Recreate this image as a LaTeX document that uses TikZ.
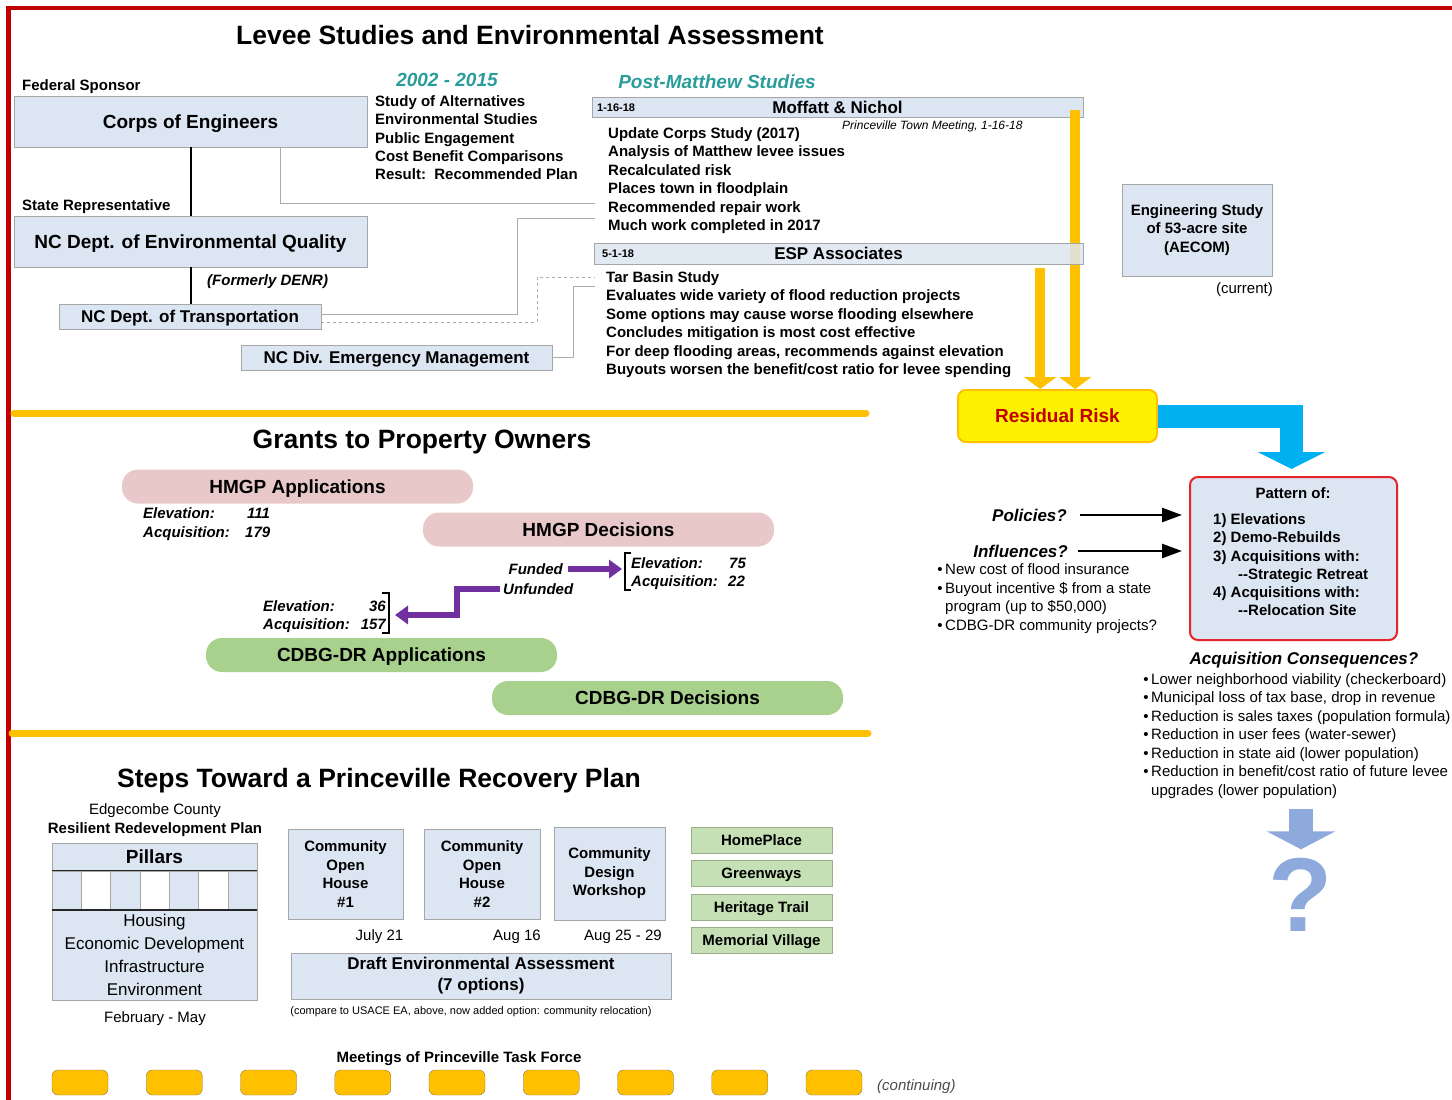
\documentclass[tikz,border=0pt]{standalone}
\usepackage{fontspec}
\setmainfont{Liberation Sans}
\usetikzlibrary{arrows.meta}
\definecolor{redframe}{HTML}{C00000}
\definecolor{tealc}{HTML}{2A9D9A}
\definecolor{boxblue}{HTML}{DCE6F2}
\definecolor{boxline}{HTML}{A6A6A6}
\definecolor{goldc}{HTML}{FFC000}
\definecolor{pinkc}{HTML}{E8C8C8}
\definecolor{greenc}{HTML}{A9D18E}
\definecolor{lgreen}{HTML}{C5E0B4}
\definecolor{gline}{HTML}{9BAE8C}
\definecolor{mline}{HTML}{8C7A4A}
\definecolor{purp}{HTML}{7030A0}
\definecolor{skyc}{HTML}{00B0F0}
\definecolor{cornc}{HTML}{8EA9DB}
\definecolor{patred}{HTML}{E2262B}
\definecolor{riskc}{HTML}{C00000}
\newcommand{\fsz}[2]{\fontsize{#1}{#2}\selectfont}
\newcommand{\bul}{\makebox[0pt][r]{\textbullet\hspace{2.5pt}}}
\begin{document}
\begin{tikzpicture}[x=1pt,y=-1pt,
		lbl/.style={inner sep=0pt,text height=#1,text depth=0pt},
		r15/.style={lbl=10.8pt,font=\fsz{15}{18}},
		b15/.style={lbl=10.8pt,font=\fsz{15}{18}\bfseries},
		bi15/.style={lbl=10.8pt,font=\fsz{15}{18}\bfseries\itshape},
		b17/.style={lbl=12.2pt,font=\fsz{17}{20}\bfseries},
		bi17/.style={lbl=12.2pt,font=\fsz{17}{20}\bfseries\itshape},
		b19/.style={lbl=13.7pt,font=\fsz{19}{22}\bfseries},
		head/.style={lbl=19pt,font=\fsz{26.5}{30}\bfseries},
		teal/.style={lbl=13.7pt,font=\fsz{19}{22}\bfseries\itshape,text=tealc},
		box/.style={draw=boxline,fill=boxblue,inner sep=0pt},
		bar/.style={box,minimum height=20pt},
		pill/.style={inner sep=0pt,rounded corners=16pt,minimum width=351pt,minimum height=34pt},
		grn/.style={box,fill=lgreen,draw=gline,minimum width=141pt,minimum height=26pt},
		mtg/.style={draw=mline,fill=goldc,rounded corners=6pt,minimum width=56pt,minimum height=25pt},
		link/.style={draw=gray!65,line width=0.8pt},
		goldarrow/.style={draw=goldc,line width=10pt,-{Triangle[width=32pt,length=12pt]}},
		purparrow/.style={draw=purp,line width=6pt,line join=miter,-{Triangle[width=18pt,length=13pt]}},
		blkarrow/.style={line width=2.5pt,-{Triangle[width=14pt,length=20pt]}}]
		\useasboundingbox (0,0) rectangle (1452,1100);
		\fill[white] (0,0) rectangle (1452,1100);
		\draw[redframe,line width=4.5pt] (8.5,1100) -- (8.5,8) -- (1452,8);
		\draw[goldc,line width=7pt,line cap=round] (14,413) -- (866,413);
		\draw[goldc,line width=7pt,line cap=round] (12,733) -- (868,733);
		% levee studies
		\node[head] (t1) at (530,35) {Levee Studies and Environmental Assessment};
		\node[b15,anchor=west] (fed) at (22,85) {Federal Sponsor};
		\node[box,b19,minimum width=353pt,minimum height=51pt] (corps) at (190.5,121.5) {Corps of Engineers};
		\node[b15,anchor=west] (state) at (22,205) {State Representative};
		\node[box,b19,minimum width=353pt,minimum height=51pt] (deq) at (190.5,241.5) {NC Dept. of Environmental Quality};
		\node[bi15,anchor=west] (denr) at (207,280) {(Formerly DENR)};
		\node[box,b17,minimum width=262pt,minimum height=25pt] (dot) at (190,316.5) {NC Dept. of Transportation};
		\node[box,b17,minimum width=311pt,minimum height=25pt] (em) at (396.5,357.5) {NC Div. Emergency Management};
		\draw[line width=2pt] (corps) -- (deq);
		\draw[line width=2pt] (deq.south) -- (deq.south |- dot.north);
		\node[teal] (yrs) at (447,80) {2002 - 2015};
		\foreach \t [count=\n from 0] in {Study of Alternatives,Environmental Studies,Public Engagement,Cost Benefit Comparisons,{Result:~~Recommended Plan}}
			\node[b15,anchor=west] (alt\n) at (375,101+18.3*\n) {\t};
		\node[teal] (post) at (717,82) {Post-Matthew Studies};
		\node[bar,b17,minimum width=491pt] (mof) at (837.5,107.5) {Moffatt \& Nichol};
		\node[lbl=7.9pt,font=\fsz{11}{13}\bfseries,anchor=west] (mofd) at (597,108) {1-16-18};
		\node[lbl=8.6pt,font=\fsz{12}{14}\itshape,anchor=west] (town) at (842,125) {Princeville Town Meeting, 1-16-18};
		\foreach \t [count=\n from 0] in {Update Corps Study (2017),Analysis of Matthew levee issues,Recalculated risk,Places town in floodplain,Recommended repair work,Much work completed in 2017}
			\node[b15,anchor=west] (mofl\n) at (608,133+18.4*\n) {\t};
		\node[box,b19,rounded corners=8pt,draw=goldc,line width=2pt,fill=yellow,text=riskc,minimum width=199pt,minimum height=52pt] (res) at (1057.5,416) {Residual Risk};
		\draw[goldarrow] ([xshift=-8pt,yshift=-2pt]mof.east) -- ([xshift=-8pt]mof.east |- res.north);
		\node[bar,b17,minimum width=489pt,minimum height=21pt,fill opacity=.85,text opacity=1] (esp) at (838.5,253.5) {ESP Associates};
		\node[lbl=7.9pt,font=\fsz{11}{13}\bfseries,anchor=west] (espd) at (602,254) {5-1-18};
		\foreach \t [count=\n from 0] in {Tar Basin Study,Evaluates wide variety of flood reduction projects,Some options may cause worse flooding elsewhere,Concludes mitigation is most cost effective,{For deep flooding areas, recommends against elevation},Buyouts worsen the benefit/cost ratio for levee spending}
			\node[b15,anchor=west] (espl\n) at (606,277+18.4*\n) {\t};
		\draw[goldarrow] ([xshift=-43pt,yshift=-4pt]esp.south east) -- ([xshift=-43pt]esp.south east |- res.north);
		\coordinate (inA) at (595,203);
		\coordinate (inB) at (595,218);
		\coordinate (inC) at (595,277);
		\coordinate (inD) at (595,286);
		\draw[link] ([xshift=90pt]corps.south) |- (inA);
		\draw[link] ([yshift=2pt]dot.east) -| ([xshift=-78pt]inB) -- (inB);
		\draw[link,dashed] ([yshift=-6pt]dot.east) -| ([xshift=-58pt]inC) -- (inC);
		\draw[link] (em.east) -| ([xshift=-22pt]inD) -- (inD);
		\node[box,minimum width=150pt,minimum height=92pt,align=center,font=\fsz{15}{18.5}\bfseries] (eng) at (1197,230) {Engineering Study\\of 53-acre site\\(AECOM)};
		\node[r15,anchor=east] (cur) at (1273,288) {(current)};
		% pattern and consequences
		\node[box,draw=patred,line width=2pt,rounded corners=8pt,minimum width=207pt,minimum height=163pt] (pat) at (1293.5,558.5) {};
		\draw[skyc,line width=23pt,line join=miter,-{Triangle[width=67pt,length=17pt]}] (res.east) -| ([xshift=-2pt,yshift=7pt]pat.north);
		\node[b15] (patt) at (1293,493) {Pattern of:};
		\foreach \xx/\yy/\t [count=\n] in {1213/519/1) Elevations,1213/537.3/2) Demo-Rebuilds,1213/555.6/3) Acquisitions with:,1238/573.9/{-{}-Strategic Retreat},1213/592.2/4) Acquisitions with:,1238/610.5/{-{}-Relocation Site}}
			\node[b15,anchor=west] (pat\n) at (\xx,\yy) {\t};
		\node[bi17,anchor=east] (pol) at (1067,515) {Policies?};
		\draw[blkarrow] ([xshift=13pt]pol.east) -- ([xshift=-7pt]pol.east -| pat.west);
		\node[bi17,anchor=east] (inf) at (1068,551) {Influences?};
		\draw[blkarrow] ([xshift=10pt]inf.east) -- ([xshift=-7pt]inf.east -| pat.west);
		\foreach \b/\t [count=\n] in {1/New cost of flood insurance,1/Buyout incentive \$ from a state,0/{program (up to \$50,000)},1/CDBG-DR community projects?}
			\node[r15,anchor=west] (infl\n) at (945,550.5+18.6*\n) {\ifnum\b=1 \bul\fi\t};
		\node[bi17] (acq) at (1304,658) {Acquisition Consequences?};
		\foreach \b/\t [count=\n] in {1/Lower neighborhood viability (checkerboard),1/{Municipal loss of tax base, drop in revenue},1/Reduction is sales taxes (population formula),1/Reduction in user fees (water-sewer),1/Reduction in state aid (lower population),1/{Reduction in benefit/cost ratio of future levee},0/upgrades (lower population)}
			\node[r15,anchor=west] (acql\n) at (1151,660.5+18.5*\n) {\ifnum\b=1 \bul\fi\t};
		\node[lbl=76pt,font=\fsz{105}{105}\bfseries,text=cornc] (qm) at (1301,893.5) {?};
		\coordinate (dn) at (1301,809);
		\draw[cornc,line width=24pt,-{Triangle[width=68pt,length=18pt]}] (dn) -- ([yshift=6pt]qm.north);
		% grants
		\node[head] (t2) at (422,439) {Grants to Property Owners};
		\node[pill,fill=pinkc,b19] (happ) at (297.5,486.5) {HMGP Applications};
		\node[bi15,anchor=west] (hae) at (143,513) {Elevation:};
		\node[bi15,anchor=west] (haa) at (143,532) {Acquisition:};
		\node[bi15,anchor=west] (haen) at (247,513) {111};
		\node[bi15,anchor=west] (haan) at (245,532) {179};
		\node[pill,fill=pinkc,b19] (hdec) at (598.5,529.5) {HMGP Decisions};
		\node[bi15,anchor=east] (fund) at (563,569) {Funded};
		\node[bi15,anchor=west] (unf) at (503,589) {Unfunded};
		\node[bi15,anchor=west] (fe) at (631,563) {Elevation:};
		\node[bi15,anchor=west] (fa) at (631,581) {Acquisition:};
		\node[bi15,anchor=west] (fen) at (729,563) {75};
		\node[bi15,anchor=west] (fan) at (728,581) {22};
		\draw[line width=1.2pt] ([yshift=10pt]fe.west) -| ([xshift=-6pt,yshift=-9pt]fa.west) -- ([yshift=-9pt]fa.west);
		\draw[purparrow] ([xshift=5pt]fund.east) -- ([xshift=-9pt]fund.east -| fe.west);
		\node[bi15,anchor=west] (ue) at (263,606) {Elevation:};
		\node[bi15,anchor=west] (ua) at (263,624) {Acquisition:};
		\node[bi15,anchor=east] (uen) at (386,606) {36};
		\node[bi15,anchor=east] (uan) at (386,624) {157};
		\draw[line width=1.2pt] ([xshift=-4pt,yshift=13pt]uen.east) -| ([xshift=3pt,yshift=-9pt]uan.east) -- ([xshift=-4pt,yshift=-9pt]uan.east);
		\draw[purparrow] ([xshift=-3pt]unf.west) -- ++(-43,0) |- ([xshift=9pt,yshift=-9pt]uen.east);
		\node[pill,fill=greenc,b19] (capp) at (381.5,655) {CDBG-DR Applications};
		\node[pill,fill=greenc,b19] (cdec) at (667.5,698) {CDBG-DR Decisions};
		% recovery plan
		\node[head] (t3) at (379,778) {Steps Toward a Princeville Recovery Plan};
		\node[r15] (edg) at (155,809) {Edgecombe County};
		\node[b15] (rrp) at (155,828) {Resilient Redevelopment Plan};
		\node[box,b19,minimum width=205pt,minimum height=27pt] (pil) at (154.5,857) {Pillars};
		\foreach \n in {0,...,6}{
			\ifodd\n \def\cc{white}\else\def\cc{boxblue}\fi
			\node[box,fill=\cc,minimum width=29.3pt,minimum height=39pt] (col\n) at (66.65+29.3*\n,890.5) {};
		}
		\node[box,minimum width=205pt,minimum height=90pt,align=center,font=\fsz{17}{23}] (pbase) at (154.5,955) {Housing\\Economic Development\\Infrastructure\\Environment};
		\draw[line width=1.5pt,gray!30!black] (pil.south west) -- (pil.south east);
		\draw[line width=1.5pt,gray!30!black] (pbase.north west) -- (pbase.north east);
		\node[r15] (feb) at (155,1017) {February - May};
		\node[box,minimum width=115pt,minimum height=90pt,align=center,font=\fsz{15}{18.4}\bfseries] (oh1) at (345.5,874) {Community\\Open\\House\\\#1};
		\node[box,minimum width=116pt,minimum height=90pt,align=center,font=\fsz{15}{18.4}\bfseries] (oh2) at (482,874) {Community\\Open\\House\\\#2};
		\node[box,minimum width=111pt,minimum height=93pt,align=center,font=\fsz{15}{18.4}\bfseries] (cdw) at (609.5,873.5) {Community\\Design\\Workshop};
		\node[r15] (d1) at (379.5,935) {July 21};
		\node[r15] (d2) at (517,935) {Aug 16};
		\node[r15] (d3) at (623,935) {Aug 25 - 29};
		\node[box,minimum width=380pt,minimum height=46pt,align=center,font=\fsz{17}{21}\bfseries] (dea) at (481,976) {Draft Environmental Assessment\\(7 options)};
		\node[lbl=7.9pt,font=\fsz{11}{13}] (cmp) at (471,1011) {(compare to USACE EA, above, now added option: community relocation)};
		\foreach \t [count=\n from 0] in {HomePlace,Greenways,Heritage Trail,Memorial Village}
			\node[grn,b15] (g\n) at (761.5,840+33.5*\n) {\t};
		\node[b15] (mtl) at (459,1057) {Meetings of Princeville Task Force};
		\foreach \n in {0,...,8}
			\node[mtg] (mtg\n) at (80+94.25*\n,1082.5) {};
		\node[lbl=10.8pt,font=\fsz{15}{18}\itshape,text=gray!60!black,anchor=west] (cont) at (877,1085) {(continuing)};
	\end{tikzpicture}
\end{document}
